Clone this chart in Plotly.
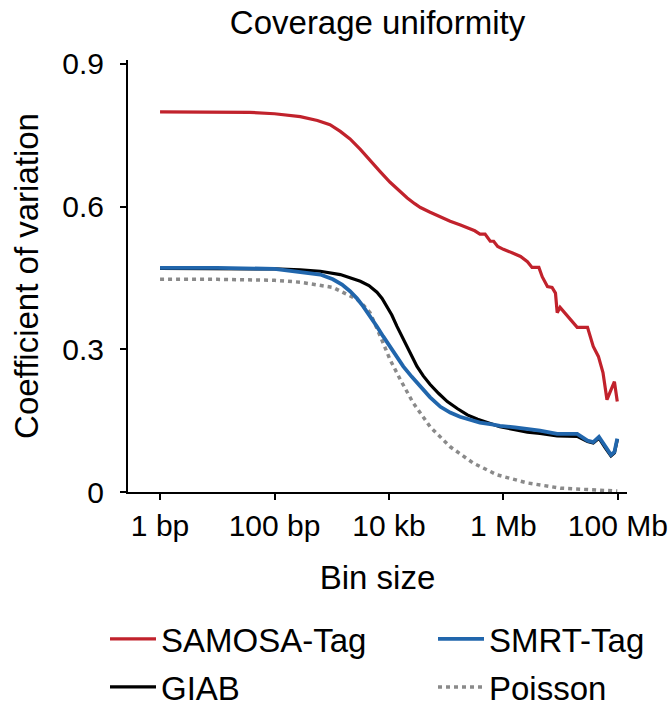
import plotly.graph_objects as go

# Bin sizes (bp) and coefficient of variation for each dataset
samosa_bin = [1, 10, 37, 100, 282, 562, 933, 1413, 2089, 3162, 4677, 7079, 10471,
              15849, 20893, 28184, 35481, 52481, 79433, 117490, 177828, 263027, 316228,
              389045, 478630, 588844, 676083, 794328, 1000000, 1412538, 1995262,
              2630268, 3162278, 4168694, 4786301, 5888437, 7079458, 8128305,
              8709636, 9772372, 14125375, 19498446, 29512092, 37153523, 45708819,
              54954087, 64565423, 87096359, 97723722]
samosa_cv = [0.799, 0.799, 0.798, 0.795, 0.789, 0.781, 0.772, 0.758, 0.742, 0.720,
             0.696, 0.673, 0.651, 0.630, 0.618, 0.606, 0.598, 0.588, 0.578, 0.569,
             0.561, 0.552, 0.549, 0.542, 0.542, 0.527, 0.527, 0.516, 0.510, 0.503,
             0.495, 0.484, 0.472, 0.472, 0.452, 0.432, 0.430, 0.418, 0.377, 0.388,
             0.365, 0.346, 0.346, 0.306, 0.285, 0.251, 0.194, 0.232, 0.190]

giab_bin = [1, 10, 100, 282, 631, 1413, 2239, 3162, 4467, 6166, 7586, 9333, 11220,
            13804, 16982, 20893, 25119, 30903, 39811, 52481, 74131, 104713, 158489,
            234423, 354813, 524807, 870964, 1584893, 2630268, 4365158, 8709636,
            19498446, 29512092, 37153523, 46773514, 60255959, 75857758, 87096359,
            97723722]
giab_cv = [0.470, 0.470, 0.469, 0.467, 0.464, 0.457, 0.449, 0.443, 0.434, 0.420,
           0.407, 0.390, 0.372, 0.348, 0.327, 0.306, 0.284, 0.264, 0.244, 0.226,
           0.207, 0.190, 0.175, 0.162, 0.153, 0.146, 0.137, 0.131, 0.126, 0.123,
           0.118, 0.117, 0.106, 0.103, 0.113, 0.093, 0.076, 0.082, 0.110]

smrt_bin = [1, 10, 100, 282, 631, 1047, 1514, 2089, 2754, 3548, 4677, 6166, 7943,
            10471, 13804, 17783, 25119, 35481, 52481, 79433, 117490, 173780,
            263027, 389045, 630957, 870964, 1584893, 2630268, 4365158, 8709636,
            19498446, 29512092, 37153523, 46773514, 60255959, 75857758, 87096359,
            97723722]
smrt_cv = [0.471, 0.471, 0.469, 0.463, 0.457, 0.447, 0.436, 0.422, 0.407, 0.390,
           0.370, 0.348, 0.327, 0.306, 0.285, 0.264, 0.242, 0.221, 0.199, 0.179,
           0.167, 0.158, 0.152, 0.146, 0.142, 0.139, 0.136, 0.133, 0.129, 0.122,
           0.122, 0.108, 0.105, 0.116, 0.095, 0.078, 0.084, 0.112]

poisson_bin = [1, 10, 100, 282, 1047, 1585, 2754, 3548, 4677, 7079, 10471, 15849,
               26303, 52481, 117490, 295121, 776247, 2630268, 10000000, 97723722]
poisson_cv = [0.447, 0.447, 0.445, 0.441, 0.430, 0.420, 0.405, 0.393, 0.377, 0.327,
              0.278, 0.236, 0.188, 0.137, 0.095, 0.061, 0.036, 0.019, 0.008, 0.002]

x_tick_vals = [1, 100, 10000, 1000000, 100000000]
x_tick_text = ["1 bp", "100 bp", "10 kb", "1 Mb", "100 Mb"]
y_tick_vals = [0, 0.3, 0.6, 0.9]
y_tick_text = ["0", "0.3", "0.6", "0.9"]

RED = "#C1222C"
BLUE = "#2166AC"
GRAY = "#8A8A8A"
FONT = "Liberation Sans, Arial, sans-serif"

fig = go.Figure()
fig.add_trace(go.Scatter(x=poisson_bin, y=poisson_cv, mode="lines", name="Poisson",
                         line=dict(color=GRAY, width=3.5, dash="4px,4px"),
                         legend="legend4"))
fig.add_trace(go.Scatter(x=samosa_bin, y=samosa_cv, mode="lines", name="SAMOSA-Tag",
                         line=dict(color=RED, width=3.2), legend="legend"))
fig.add_trace(go.Scatter(x=giab_bin, y=giab_cv, mode="lines", name="GIAB",
                         line=dict(color="black", width=3.2), legend="legend3"))
fig.add_trace(go.Scatter(x=smrt_bin, y=smrt_cv, mode="lines", name="SMRT-Tag",
                         line=dict(color=BLUE, width=3.8), legend="legend2"))

# one single-entry legend per slot of the 2x2 key below the plot
legend_common = dict(xref="container", yref="container", xanchor="left",
                     yanchor="middle", orientation="h",
                     font=dict(family=FONT, size=33, color="black"),
                     bgcolor="rgba(0,0,0,0)", itemwidth=46)
col_x = [105 / 672, 433 / 672]
row_y = [1 - 639 / 706, 1 - 687 / 706]

fig.update_layout(
    width=672, height=706,
    margin=dict(l=128, r=45, t=60, b=214),
    paper_bgcolor="white", plot_bgcolor="white",
    font=dict(family=FONT, color="black"),
    showlegend=True,
    title=dict(text="Coverage uniformity", font=dict(family=FONT, size=33, color="black"),
               xref="paper", x=0.5, xanchor="center",
               yref="container", y=1 - 22 / 706, yanchor="middle"),
    xaxis=dict(type="log", range=[-0.56, 8.16], showgrid=False, zeroline=False,
               automargin=False,
               showline=True, linecolor="black", linewidth=2,
               ticks="outside", ticklen=6, tickwidth=2, tickcolor="black",
               tickvals=x_tick_vals, ticktext=x_tick_text,
               tickfont=dict(family=FONT, size=30, color="black"),
               title=dict(text="Bin size", font=dict(family=FONT, size=33, color="black"),
                          standoff=25)),
    yaxis=dict(range=[0, 0.908], showgrid=False, zeroline=False,
               automargin=False,
               showline=True, linecolor="black", linewidth=2,
               ticks="outside", ticklen=6, tickwidth=2, tickcolor="black",
               ticklabelstandoff=10,
               tickvals=y_tick_vals, ticktext=y_tick_text,
               tickfont=dict(family=FONT, size=30, color="black"),
               title=dict(text="Coefficient of variation",
                          font=dict(family=FONT, size=33, color="black"), standoff=14)),
    legend=dict(x=col_x[0], y=row_y[0], visible=True, **legend_common),
    legend2=dict(x=col_x[1], y=row_y[0], **legend_common),
    legend3=dict(x=col_x[0], y=row_y[1], **legend_common),
    legend4=dict(x=col_x[1], y=row_y[1], **legend_common),
)

fig.write_html("out.html")
